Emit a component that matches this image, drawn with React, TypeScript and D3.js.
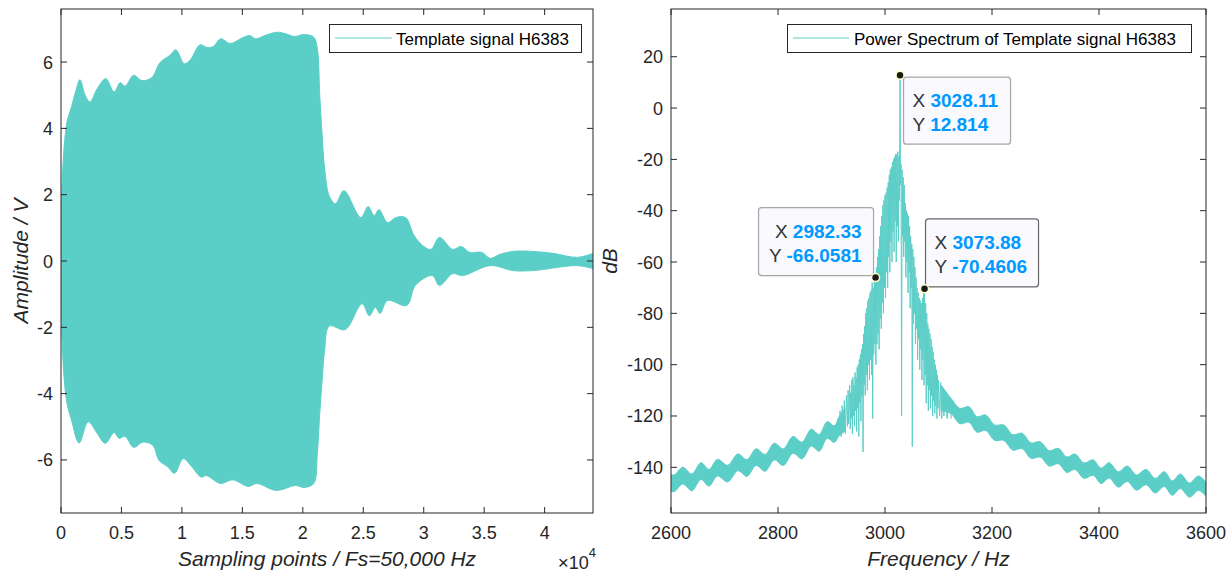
import React from "react";
import * as d3 from "d3";

// ---------- Left panel: template signal envelope ----------
const sigUpperX = [0, 100, 250, 500, 870, 1200, 1570, 2000, 2400, 3000, 3700, 4400, 4900, 5300, 6000, 6700, 7500, 8200, 9000, 9500, 10200, 10700, 11500, 12100, 12600, 13200, 14000, 15000, 15600, 16100, 17000, 17900, 18600, 19300, 20100, 20900, 21200, 21400, 21600, 21800, 22200, 22700, 23400, 24800, 25400, 25900, 26300, 27000, 27700, 28500, 29200, 30000, 30600, 31300, 32400, 33100, 33800, 34800, 35500, 36300, 37400, 39000, 40700, 42700, 44000];
const sigUpperA = [1.1, 2.4, 3.4, 4.2, 4.65, 5.1, 5.47, 5.0, 4.8, 5.2, 5.5, 5.1, 5.38, 5.27, 5.6, 5.44, 5.53, 5.99, 6.2, 6.37, 5.95, 6.07, 6.52, 6.44, 6.47, 6.7, 6.56, 6.73, 6.8, 6.7, 6.82, 6.9, 6.85, 6.77, 6.83, 6.75, 6.4, 5.0, 3.8, 2.8, 1.95, 1.73, 2.12, 1.31, 1.64, 1.37, 1.55, 1.16, 1.31, 1.31, 0.77, 0.44, 0.35, 0.71, 0.35, 0.44, 0.26, 0.26, 0.08, 0.2, 0.29, 0.29, 0.23, 0.11, 0.23];
const sigLowerX = [0, 100, 250, 500, 870, 1500, 2250, 3000, 3660, 4400, 4800, 5300, 6000, 6800, 7600, 8100, 8800, 9400, 10100, 10800, 11600, 12000, 13200, 14200, 15500, 16200, 17800, 19400, 20100, 20900, 21200, 21400, 21600, 21800, 22200, 23500, 24900, 25500, 26000, 26400, 27000, 28600, 29300, 30700, 31300, 32400, 33200, 35500, 37400, 39000, 42700, 44000];
const sigLowerA = [-1.0, -2.4, -3.5, -4.3, -4.8, -5.49, -4.85, -5.2, -5.5, -5.17, -5.35, -5.29, -5.62, -5.46, -5.56, -6.01, -6.2, -6.4, -5.96, -6.2, -6.52, -6.47, -6.71, -6.6, -6.8, -6.71, -6.92, -6.77, -6.83, -6.71, -5.8, -4.6, -3.6, -2.7, -1.96, -2.07, -1.29, -1.65, -1.4, -1.58, -1.19, -1.34, -0.74, -0.44, -0.74, -0.38, -0.44, -0.14, -0.29, -0.29, -0.14, -0.23];
const leftXTicks = [0, 5000, 10000, 15000, 20000, 25000, 30000, 35000, 40000];
const leftXTickLabels = ["0", "0.5", "1", "1.5", "2", "2.5", "3", "3.5", "4"];
const leftYTicks = [-6, -4, -2, 0, 2, 4, 6];

// ---------- Right panel: power spectrum ----------
const tailLeftF = [2600, 2606, 2622, 2639, 2656, 2671, 2687, 2706, 2725, 2742, 2759, 2776, 2793, 2810, 2828, 2845, 2862, 2877, 2892, 2905, 2915, 2925];
const tailLeftUp = [-142.8, -143.0, -140.0, -142.6, -138.2, -140.8, -136.9, -139.2, -134.8, -137.0, -132.8, -135.0, -130.6, -132.8, -128.0, -130.2, -125.2, -127.2, -122.2, -123.8, -120.0, -117.0];
const tailLeftLo = [-149.3, -149.5, -146.5, -149.1, -144.7, -147.3, -143.4, -145.7, -141.3, -143.5, -139.3, -141.5, -137.1, -139.3, -134.5, -136.7, -131.7, -133.7, -128.7, -130.3, -127.5, -126.0];
const tailRightF = [3105, 3123, 3140, 3157, 3172, 3188, 3205, 3222, 3239, 3256, 3273, 3290, 3307, 3324, 3340, 3355, 3372, 3389, 3404, 3419, 3436, 3453, 3470, 3488, 3505, 3522, 3537, 3552, 3569, 3586, 3600];
const tailRightUp = [-108, -113.0, -117.0, -116.4, -120.3, -119.6, -123.5, -123.5, -127.3, -126.7, -130.5, -130.0, -133.5, -132.6, -136.0, -134.8, -138.3, -137.1, -140.3, -138.2, -141.7, -139.5, -143.0, -140.8, -144.3, -141.7, -145.3, -142.6, -146.1, -143.4, -145.8];
const tailRightLo = [-118, -119.0, -123.0, -122.4, -126.3, -125.6, -129.5, -129.5, -133.3, -132.7, -136.5, -136.0, -139.5, -138.6, -142.0, -140.8, -144.3, -143.1, -146.3, -144.2, -147.7, -145.5, -148.9, -146.8, -150.0, -147.5, -150.9, -148.3, -151.6, -149.0, -151.3];

const centerF = [2912, 2914, 2916, 2918, 2920, 2922, 2924, 2926, 2928, 2930, 2931, 2932, 2934, 2935, 2936, 2937, 2938, 2939, 2940, 2941, 2942, 2943, 2944, 2945, 2946, 2947, 2948, 2949, 2950, 2951, 2952, 2953, 2954, 2955, 2956, 2957, 2958, 2959, 2960, 2961, 2962, 2963, 2964, 2965, 2966, 2967, 2968, 2969, 2970, 2971, 2972, 2973, 2974, 2975, 2976, 2977, 2978, 2979, 2980, 2981, 2982.33, 2983, 2984, 2985, 2986, 2987, 2988, 2989, 2990, 2991, 2992, 2993, 2994, 2995, 2996, 2997, 2998, 2999, 3000, 3001, 3002, 3003, 3004, 3005, 3006, 3007, 3008, 3009, 3010, 3011, 3012, 3013, 3014, 3015, 3016, 3017, 3018, 3019, 3020, 3021, 3022, 3023, 3024, 3025, 3026, 3027, 3028.11, 3029, 3030, 3031, 3032, 3033, 3034, 3035, 3036, 3037, 3038, 3039, 3040, 3041, 3042, 3043, 3044, 3045, 3046, 3047, 3048, 3049, 3050, 3051, 3052, 3053, 3054, 3055, 3056, 3057, 3058, 3059, 3060, 3061, 3062, 3063, 3064, 3065, 3066, 3067, 3068, 3069, 3070, 3071, 3072, 3073, 3073.88, 3075, 3076, 3077, 3078, 3079, 3080, 3081, 3082, 3083, 3084, 3085, 3086, 3087, 3088, 3089, 3090, 3091, 3092, 3093, 3094, 3095, 3096, 3097, 3098, 3099, 3100, 3102, 3104, 3106, 3108, 3110, 3113, 3116, 3120, 3124];
const centerDb = [-121, -127, -118, -128, -116, -126, -114, -127, -112, -124, -110, -123, -108, -125, -111, -121, -106, -127, -105, -120, -108, -124, -103, -118, -105, -126, -101, -117, -100, -128, -98, -115, -96, -122, -94, -112, -92, -134, -88, -108, -85, -112, -80, -104, -78, -110, -75, -100, -74, -106, -72, -98, -71, -104, -68, -121, -70, -96, -67, -92, -66.0581, -100, -62, -92, -58, -88, -55, -94, -50, -82, -46, -86, -42, -76, -38, -80, -36, -70, -34, -74, -33, -64, -31, -70, -29, -58, -26, -64, -24, -52, -23, -60, -21, -48, -20, -56, -19, -44, -18, -60, -18, -46, -17, -52, -19, -36, 12.814, -30, -22, -120, -24, -50, -27, -58, -30, -52, -37, -66, -40, -60, -41, -72, -42, -64, -46, -78, -50, -70, -53, -132, -55, -84, -58, -80, -62, -92, -66, -86, -70, -98, -72, -90, -74, -102, -75, -94, -76, -106, -74, -98, -72, -108, -70.4606, -104, -76, -115, -80, -108, -84, -118, -86, -110, -88, -117, -90, -112, -93, -120, -95, -114, -98, -119, -100, -116, -102, -121, -104, -117, -106, -120, -107, -121, -109, -120, -111, -121, -113, -121];
const rightXTicks = [2600, 2800, 3000, 3200, 3400, 3600];
const rightYTicks = [-140, -120, -100, -80, -60, -40, -20, 0, 20];

const tipF = [3028.11, 2982.33, 3073.88];
const tipDb = [12.814, -66.0581, -70.4606];
const tipXText = ["3028.11", "2982.33", "3073.88"];
const tipYText = ["12.814", "-66.0581", "-70.4606"];

const TEAL = "#5ccec8";
const AX = "#262626";
const FONT = "'Liberation Sans', Arial, Helvetica, sans-serif";

export default function App() {
  const L = { x0: 61, x1: 593, y0: 9, y1: 513 };
  const lx = d3.scaleLinear().domain([0, 44000]).range([L.x0, L.x1]);
  const ly = d3.scaleLinear().domain([-7.6, 7.6]).range([L.y1, L.y0]);

  const R = { x0: 671, x1: 1206, y0: 9, y1: 513 };
  const rx = d3.scaleLinear().domain([2600, 3600]).range([R.x0, R.x1]);
  const ry = d3.scaleLinear().domain([-157.8, 38.6]).range([R.y1, R.y0]);

  const curve = d3.curveCatmullRom.alpha(0.5);
  const upPts: [number, number][] = sigUpperX.map((x, i) => [lx(x), ly(sigUpperA[i])]);
  const loPts: [number, number][] = sigLowerX.map((x, i) => [lx(x), ly(sigLowerA[i])] as [number, number]).reverse();
  const lineGen = d3.line().curve(curve);
  const upPath = lineGen(upPts) || "";
  const loPath = (lineGen(loPts) || "").replace(/^M/, "L");
  const sigPath = upPath + loPath + "Z";

  const leftTail =
    d3
      .area<number>()
      .curve(curve)
      .x((_, i) => rx(tailLeftF[i]))
      .y0((_, i) => ry(tailLeftLo[i]))
      .y1((_, i) => ry(tailLeftUp[i]))(tailLeftF) || "";
  const rightTail =
    d3
      .area<number>()
      .curve(curve)
      .x((_, i) => rx(tailRightF[i]))
      .y0((_, i) => ry(tailRightLo[i]))
      .y1((_, i) => ry(tailRightUp[i]))(tailRightF) || "";
  const centerPath =
    d3
      .line<number>()
      .x((_, i) => rx(centerF[i]))
      .y((_, i) => ry(centerDb[i]))(centerF) || "";

  const tickLen = 6;

  const tips = tipF.map((f, i) => ({ px: rx(f), py: ry(tipDb[i]), xs: tipXText[i], ys: tipYText[i] }));
  const tipBoxes = [
    { dx: 3.5, dy: 2, w: 107, h: 67, align: "start", border: "#a6a6a6" },
    { dx: -117, dy: -70, w: 115, h: 68, align: "end", border: "#a6a6a6" },
    { dx: 1, dy: -70, w: 113, h: 68, align: "start", border: "#666666" },
  ];

  return (
    <svg width={1232} height={575} style={{ position: "absolute", left: 0, top: 0, background: "#fff" }} fontFamily={FONT}>
      <defs>
        <clipPath id="clipL">
          <rect x={L.x0} y={L.y0} width={L.x1 - L.x0} height={L.y1 - L.y0} />
        </clipPath>
        <clipPath id="clipR">
          <rect x={R.x0} y={R.y0} width={R.x1 - R.x0} height={R.y1 - R.y0} />
        </clipPath>
      </defs>

      {/* ---------- LEFT PANEL ---------- */}
      <g clipPath="url(#clipL)">
        <path d={sigPath} fill={TEAL} stroke={TEAL} strokeWidth={1} />
      </g>
      <rect x={L.x0} y={L.y0} width={L.x1 - L.x0} height={L.y1 - L.y0} fill="none" stroke={AX} strokeWidth={1} />
      {leftXTicks.map((t, i) => (
        <g key={"lxt" + i}>
          <line x1={lx(t)} x2={lx(t)} y1={L.y1} y2={L.y1 - tickLen} stroke={AX} />
          <line x1={lx(t)} x2={lx(t)} y1={L.y0} y2={L.y0 + tickLen} stroke={AX} />
          <text x={lx(t)} y={539} textAnchor="middle" fontSize={18} fill={AX}>
            {leftXTickLabels[i]}
          </text>
        </g>
      ))}
      {leftYTicks.map((t) => (
        <g key={"lyt" + t}>
          <line x1={L.x0} x2={L.x0 + tickLen} y1={ly(t)} y2={ly(t)} stroke={AX} />
          <line x1={L.x1} x2={L.x1 - tickLen} y1={ly(t)} y2={ly(t)} stroke={AX} />
          <text x={L.x0 - 8} y={ly(t) + 6.5} textAnchor="end" fontSize={18} fill={AX}>
            {t}
          </text>
        </g>
      ))}
      <text x={(L.x0 + L.x1) / 2} y={566} textAnchor="middle" fontSize={21} fontStyle="italic" fill={AX}>
        Sampling points / Fs=50,000 Hz
      </text>
      <text x={596} y={569} textAnchor="end" fill={AX}>
        <tspan fontSize={19}>×</tspan>
        <tspan fontSize={18}>10</tspan>
        <tspan fontSize={13} dy={-12}>4</tspan>
      </text>
      <text transform={`translate(28,${(L.y0 + L.y1) / 2}) rotate(-90)`} textAnchor="middle" fontSize={21} fontStyle="italic" fill={AX}>
        Amplitude / V
      </text>
      <rect x={329.5} y={24.5} width={252} height={28} fill="#fff" stroke={AX} strokeWidth={1} />
      <line x1={335} x2={392} y1={38} y2={38} stroke={TEAL} strokeWidth={1.2} />
      <text x={396} y={44.5} fontSize={17} fill="#000">
        Template signal H6383
      </text>

      {/* ---------- RIGHT PANEL ---------- */}
      <g clipPath="url(#clipR)">
        <path d={leftTail} fill={TEAL} stroke={TEAL} strokeWidth={1} />
        <path d={rightTail} fill={TEAL} stroke={TEAL} strokeWidth={1} />
        <path d={centerPath} fill="none" stroke={TEAL} strokeWidth={1} strokeLinejoin="round" />
      </g>
      <rect x={R.x0} y={R.y0} width={R.x1 - R.x0} height={R.y1 - R.y0} fill="none" stroke={AX} strokeWidth={1} />
      {rightXTicks.map((t) => (
        <g key={"rxt" + t}>
          <line x1={rx(t)} x2={rx(t)} y1={R.y1} y2={R.y1 - tickLen} stroke={AX} />
          <line x1={rx(t)} x2={rx(t)} y1={R.y0} y2={R.y0 + tickLen} stroke={AX} />
          <text x={rx(t)} y={539} textAnchor="middle" fontSize={18} fill={AX}>
            {t}
          </text>
        </g>
      ))}
      {rightYTicks.map((t) => (
        <g key={"ryt" + t}>
          <line x1={R.x0} x2={R.x0 + tickLen} y1={ry(t)} y2={ry(t)} stroke={AX} />
          <line x1={R.x1} x2={R.x1 - tickLen} y1={ry(t)} y2={ry(t)} stroke={AX} />
          <text x={R.x0 - 8} y={ry(t) + 6.5} textAnchor="end" fontSize={18} fill={AX}>
            {t}
          </text>
        </g>
      ))}
      <text x={(R.x0 + R.x1) / 2} y={566} textAnchor="middle" fontSize={21} fontStyle="italic" fill={AX}>
        Frequency / Hz
      </text>
      <text transform={`translate(617,${(R.y0 + R.y1) / 2}) rotate(-90)`} textAnchor="middle" fontSize={21} fontStyle="italic" fill={AX}>
        dB
      </text>
      <rect x={787.5} y={24.5} width={404} height={28} fill="#fff" stroke={AX} strokeWidth={1} />
      <line x1={793} x2={849} y1={38} y2={38} stroke={TEAL} strokeWidth={1.2} />
      <text x={854} y={44.5} fontSize={17} fill="#000">
        Power Spectrum of Template signal H6383
      </text>

      {/* data tips */}
      {tips.map((t, i) => {
        const b = tipBoxes[i];
        const bx = t.px + b.dx;
        const by = t.py + b.dy;
        const tx = b.align === "start" ? bx + 9 : bx + b.w - 12;
        return (
          <g key={"tip" + i}>
            <rect x={bx} y={by} width={b.w} height={b.h} rx={3} fill="#f9f9fe" stroke={b.border} strokeWidth={1.2} />
            <text x={tx} y={by + 30} textAnchor={b.align} fontSize={19}>
              <tspan fill="#333">X </tspan>
              <tspan fill="#0099ff" fontWeight="bold">{t.xs}</tspan>
            </text>
            <text x={tx} y={by + 54} textAnchor={b.align} fontSize={19}>
              <tspan fill="#333">Y </tspan>
              <tspan fill="#0099ff" fontWeight="bold">{t.ys}</tspan>
            </text>
            <circle cx={t.px} cy={t.py} r={4} fill="#1a1a1a" stroke="#ffffcc" strokeWidth={1.5} />
          </g>
        );
      })}
    </svg>
  );
}
